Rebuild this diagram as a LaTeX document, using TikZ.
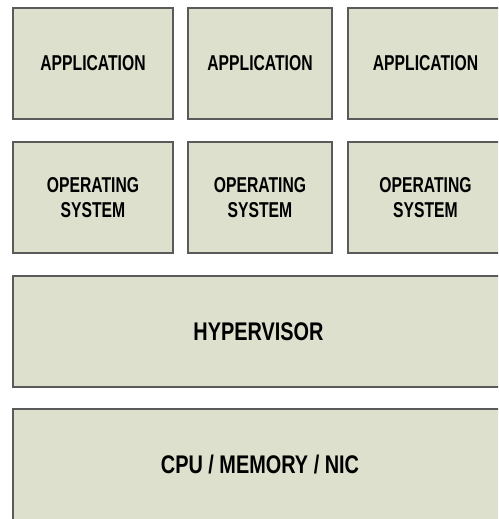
\documentclass[tikz,border=0pt]{standalone}
\usepackage{fontspec}
\newfontfamily\smallnarrow[FakeStretch=0.73]{Liberation Sans}
\newfontfamily\bignarrow[FakeStretch=0.78]{Liberation Sans}
\definecolor{boxfill}{HTML}{DCE0CC}
\definecolor{boxline}{HTML}{5A5A5A}
\tikzset{
  layer/.style={draw=boxline, fill=boxfill, line width=1.3pt, inner sep=0pt, outer sep=0pt, align=center, text=black},
  smalltext/.style={font={\smallnarrow\bfseries\fontsize{21.5}{24.5}\selectfont}},
  bigtext/.style={font={\bignarrow\bfseries\fontsize{25.5}{30}\selectfont}},
}
\begin{document}
\begin{tikzpicture}[x=1pt,y=-1pt]
\useasboundingbox (0,0) rectangle (498,519);
\clip (0,0) rectangle (498,519);
% row 1
\node[layer,smalltext,minimum width=160pt,minimum height=111pt] (app1) at (93,63.5) {APPLICATION};
\node[layer,smalltext,minimum width=144pt,minimum height=111pt] (app2) at (260,63.5) {APPLICATION};
\node[layer,smalltext,minimum width=155pt,minimum height=111pt] (app3) at (425.5,63.5) {APPLICATION};
% row 2
\node[layer,smalltext,minimum width=160pt,minimum height=111pt] (os1) at (93,197.5) {OPERATING\\SYSTEM};
\node[layer,smalltext,minimum width=144pt,minimum height=111pt] (os2) at (260,197.5) {OPERATING\\SYSTEM};
\node[layer,smalltext,minimum width=155pt,minimum height=111pt] (os3) at (425.5,197.5) {OPERATING\\SYSTEM};
% hypervisor
\node[layer,bigtext,minimum width=491pt,minimum height=111pt] (hyp) at (258.5,331.5) {HYPERVISOR};
% hardware
\node[layer,bigtext,minimum width=494pt,minimum height=112pt] (hw) at (260,465) {CPU / MEMORY / NIC};
\end{tikzpicture}
\end{document}
